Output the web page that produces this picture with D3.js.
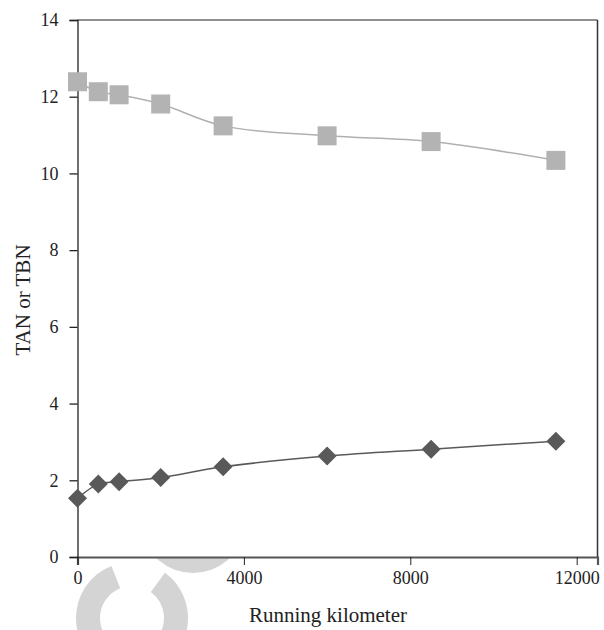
<!DOCTYPE html>
<html>
<head>
  <meta charset="UTF-8">
  <title>TAN / TBN vs running kilometer</title>
  <script src="https://d3js.org/d3.v7.min.js"></script>
  <style>
    body { margin: 0; background: #fff; }
    svg text { font-family: "Liberation Serif", "Times New Roman", serif; fill: #222; }
    .axis-title { font-size: 21px; }
  </style>
</head>
<body>
  <svg width="604" height="630"></svg>

  <script>
    const km = [0, 500, 1000, 2000, 3500, 6000, 8500, 11500];
    const tbn = [12.39, 12.13, 12.05, 11.81, 11.24, 10.98, 10.83, 10.34];
    const tan = [1.53, 1.90, 1.96, 2.07, 2.35, 2.63, 2.81, 3.02];
    const xTicks = [0, 4000, 8000, 12000];
    const yTicks = [0, 2, 4, 6, 8, 10, 12, 14];

    const svg = d3.select("svg");
    const plotLeft = 77.5, plotRight = 597.5, plotTop = 20, plotBottom = 557;
    const serif = "'Liberation Serif', 'Times New Roman', serif";

    const x = d3.scaleLinear().domain([0, 12500]).range([plotLeft, plotRight]);
    const y = d3.scaleLinear().domain([0, 14]).range([plotBottom, plotTop]);

    // faint watermark below the axis
    const wm = svg.append("g").attr("fill", "#d4d4d4");
    wm.append("path")
      .attr("transform", "translate(193,520)")
      .attr("d", d3.arc()({ innerRadius: 34, outerRadius: 53, startAngle: Math.PI * 0.55, endAngle: Math.PI * 1.45 }));
    wm.append("path")
      .attr("transform", "translate(132,618)")
      .attr("d", d3.arc()({ innerRadius: 32, outerRadius: 56, startAngle: Math.PI * 1.1, endAngle: Math.PI * 1.88 }));
    wm.append("path")
      .attr("transform", "translate(132,618)")
      .attr("d", d3.arc()({ innerRadius: 32, outerRadius: 56, startAngle: Math.PI * 0.2, endAngle: Math.PI * 0.75 }));

    // plot area
    svg.append("rect")
      .attr("x", plotLeft).attr("y", plotTop)
      .attr("width", plotRight - plotLeft).attr("height", plotBottom - plotTop)
      .attr("fill", "#fff");

    // frame: top and right
    svg.append("line").attr("x1", plotLeft).attr("x2", plotRight).attr("y1", plotTop).attr("y2", plotTop)
      .attr("stroke", "#222").attr("stroke-width", 1.2);
    svg.append("line").attr("x1", plotRight).attr("x2", plotRight).attr("y1", plotTop).attr("y2", plotBottom)
      .attr("stroke", "#333").attr("stroke-width", 1.5);

    const xAxis = svg.append("g")
      .attr("transform", `translate(0,${plotBottom})`)
      .call(d3.axisBottom(x).tickValues(xTicks).tickFormat(d3.format("d")).tickSize(8).tickPadding(6));
    xAxis.select(".domain").attr("stroke", "#555").attr("stroke-width", 2.2);
    xAxis.selectAll(".tick line").attr("stroke", "#222");

    const yAxis = svg.append("g")
      .attr("transform", `translate(${plotLeft},0)`)
      .call(d3.axisLeft(y).tickValues(yTicks).tickSize(8).tickPadding(11));
    yAxis.select(".domain").attr("stroke", "#222").attr("stroke-width", 1.3);
    yAxis.selectAll(".tick line").attr("stroke", "#222").attr("stroke-width", 1.3);

    svg.selectAll("g").attr("font-family", serif).attr("font-size", 18);
    svg.selectAll(".tick text").attr("fill", "#222");

    svg.append("text").attr("class", "axis-title")
      .attr("x", 328).attr("y", 622).attr("text-anchor", "middle")
      .text("Running kilometer");
    svg.append("text").attr("class", "axis-title")
      .attr("transform", "translate(30,300) rotate(-90)").attr("text-anchor", "middle")
      .text("TAN or TBN");

    const line = d3.line()
      .x((d, i) => x(km[i]))
      .y(d => y(d))
      .curve(d3.curveCatmullRom.alpha(0.5));

    // TBN series (light grey squares)
    svg.append("path").datum(tbn)
      .attr("d", line).attr("fill", "none")
      .attr("stroke", "#b0b0b0").attr("stroke-width", 1.5);
    const sq = 19;
    svg.append("g").selectAll("rect")
      .data(tbn).join("rect")
      .attr("x", (d, i) => x(km[i]) - sq / 2)
      .attr("y", d => y(d) - sq / 2)
      .attr("width", sq).attr("height", sq)
      .attr("fill", "#b3b3b3");

    // TAN series (dark grey diamonds)
    svg.append("path").datum(tan)
      .attr("d", line).attr("fill", "none")
      .attr("stroke", "#595959").attr("stroke-width", 1.5);
    const dm = 9.5;
    svg.append("g").selectAll("path")
      .data(tan).join("path")
      .attr("transform", (d, i) => `translate(${x(km[i])},${y(d)})`)
      .attr("d", `M0,${-dm}L${dm},0L0,${dm}L${-dm},0Z`)
      .attr("fill", "#595959");
  </script>
</body>
</html>
